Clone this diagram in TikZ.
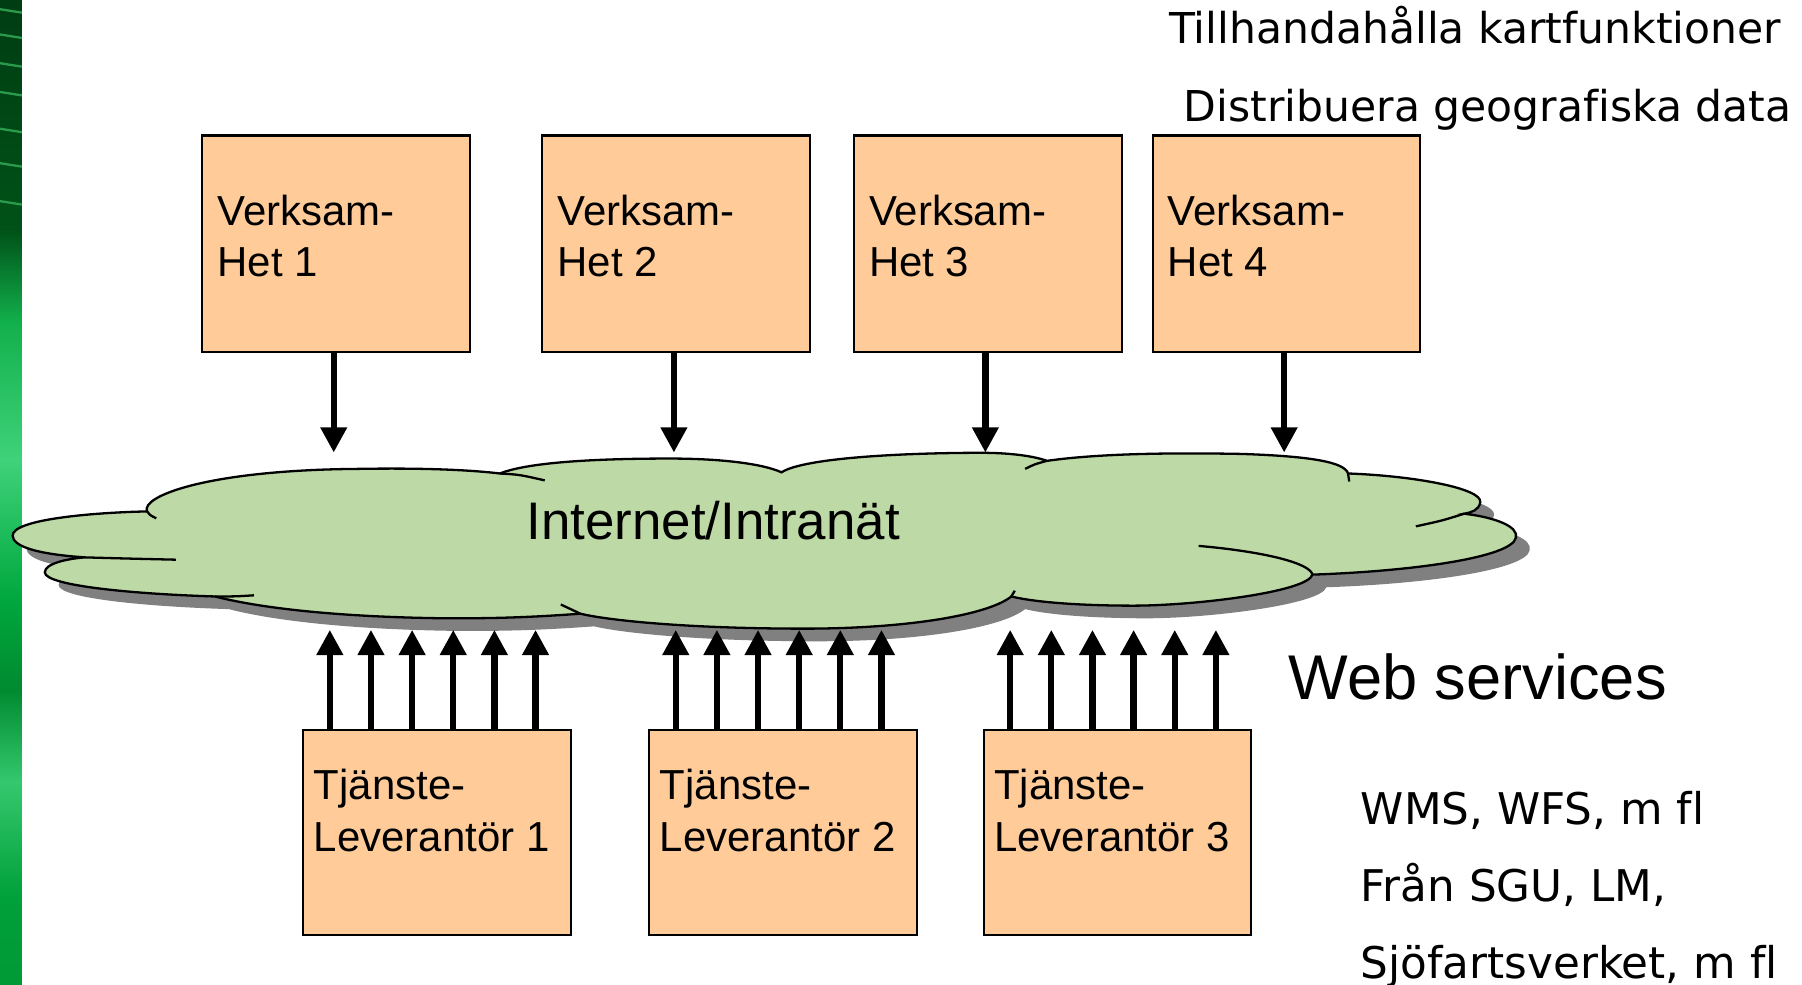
\documentclass[tikz,border=0pt]{standalone}
\usepackage{fontspec}
\setmainfont{Liberation Sans}
\newfontfamily\dvfont[Ligatures=NoCommon]{DejaVu Sans}
\usetikzlibrary{arrows.meta,calc}
\definecolor{peach}{HTML}{FFCC99}
\definecolor{cloudgreen}{HTML}{BDD9A5}
\definecolor{shadowgray}{HTML}{808080}
\definecolor{gA}{HTML}{003D12}
\definecolor{gB}{HTML}{005218}
\definecolor{gC}{HTML}{12B04C}
\definecolor{gD}{HTML}{3FD27A}
\definecolor{gE}{HTML}{00A83E}
\definecolor{gF}{HTML}{008A30}
\definecolor{gG}{HTML}{35C86E}
\definecolor{gH}{HTML}{00A03A}
\definecolor{gI}{HTML}{009A35}
\definecolor{streakgreen}{HTML}{2A9A4C}
\tikzset{
  vbox/.style={draw=black, line width=1.8pt, fill=peach, minimum width=233pt, minimum height=188pt, anchor=north west, inner sep=0pt},
  tbox/.style={draw=black, line width=1.8pt, fill=peach, minimum width=233pt, minimum height=179pt, anchor=north west, inner sep=0pt},
  boxtext/.style={font=\fontsize{36.5}{44}\selectfont, anchor=base west, inner sep=0pt},
  dvtext/.style={font=\dvfont\fontsize{37}{44}\selectfont, anchor=base west, inner sep=0pt},
  dvtextb/.style={font=\dvfont\fontsize{38}{44}\selectfont, anchor=base west, inner sep=0pt},
  arr/.style={line width=5.5pt, -{Triangle[width=22pt,length=22pt]}},
  cloudline/.style={line width=2pt, draw=black},
  streak/.style={draw=streakgreen, line width=2pt}
}
\newcommand{\cloudoutline}{(11,466) .. controls (11,452) and (80,446) .. (128,445)
 .. controls (122,432) and (180,409) .. (311,408)
 .. controls (370,407) and (410,409) .. (435,412)
 .. controls (460,402) and (520,399) .. (583,399)
 .. controls (630,399) and (665,404) .. (680,411)
 .. controls (700,398) and (790,394) .. (854,394)
 .. controls (880,394) and (900,397) .. (911,401)
 .. controls (960,394) and (1030,394) .. (1081,395)
 .. controls (1140,397) and (1170,402) .. (1173,412)
 .. controls (1230,414) and (1290,425) .. (1288,437)
 .. controls (1287,444) and (1280,446) .. (1274,447)
 .. controls (1300,450) and (1322,458) .. (1319,468)
 .. controls (1315,485) and (1230,497) .. (1142,500)
 .. controls (1138,515) and (1040,527) .. (986,527)
 .. controls (940,527) and (900,524) .. (880,519)
 .. controls (860,535) and (790,547) .. (700,547)
 .. controls (600,547) and (530,540) .. (505,534)
 .. controls (450,538) and (420,538) .. (388,538)
 .. controls (300,537) and (230,530) .. (187,519)
 .. controls (120,517) and (39,510) .. (39,498)
 .. controls (39,490) and (60,486) .. (74,485)
 .. controls (30,482) and (11,475) .. (11,466) -- cycle}
\begin{document}
\begin{tikzpicture}[x=1pt,y=-1pt]
\useasboundingbox (0,0) rectangle (1568,857);
\fill[white] (0,0) rectangle (1568,857);
% green strip
\shade[top color=gA, bottom color=gB] (0,0) rectangle (19,201);
\shade[top color=gB, bottom color=gC] (0,200) rectangle (19,281);
\shade[top color=gC, bottom color=gD] (0,280) rectangle (19,401);
\shade[top color=gD, bottom color=gE] (0,400) rectangle (19,521);
\shade[top color=gE, bottom color=gF] (0,520) rectangle (19,601);
\shade[top color=gF, bottom color=gG] (0,600) rectangle (19,681);
\shade[top color=gG, bottom color=gH] (0,680) rectangle (19,781);
\shade[top color=gH, bottom color=gI] (0,780) rectangle (19,857);
\foreach \s in {8,30,55,80,112,142,175}
  \draw[streak] (0,\s) -- (19,\s+3);
% cloud
\fill[shadowgray, shift={(12,11)}] \cloudoutline;
\filldraw[fill=cloudgreen, cloudline] \cloudoutline;
\draw[cloudline] (128,445) .. controls (130,448) .. (136,451);
\draw[cloudline] (435,412) .. controls (452,413) .. (474,418);
\draw[cloudline] (892,408) .. controls (900,404) .. (911,401);
\draw[cloudline] (1173,412) .. controls (1174,416) .. (1174,419);
\draw[cloudline] (1274,447) .. controls (1255,453) .. (1232,458);
\draw[cloudline] (1043,475) .. controls (1100,480) and (1140,490) .. (1142,500);
\draw[cloudline] (880,519) .. controls (881,516) .. (883,514);
\draw[cloudline] (505,534) .. controls (497,530) .. (488,526);
\draw[cloudline] (187,519) .. controls (205,519) .. (221,518);
\draw[cloudline] (74,485) .. controls (110,486) .. (153,487);
\node[font=\fontsize{46}{55}\selectfont, anchor=base west, inner sep=0pt] (net) at (458,469) {Internet/Intranät};
% top boxes
\node[vbox] (v1) at (175,117) {};
\node[vbox] (v2) at (471,117) {};
\node[vbox] (v3) at (742,117) {};
\node[vbox] (v4) at (1002,117) {};
\foreach \i in {1,2,3,4}{
  \node[boxtext] (v\i a) at ($(v\i.north west)+(14,79)$) {Verksam-};
  \node[boxtext] (v\i b) at ($(v\i.north west)+(14,124)$) {Het \i};
  \coordinate (v\i e) at ($(v\i.south)+(-2,87)$);
  \draw[arr] ($(v\i.south)+(-2,0)$) -- (v\i e);
}
% bottom boxes
\node[tbox] (t1) at (263,634) {};
\node[tbox] (t2) at (564,634) {};
\node[tbox] (t3) at (855,634) {};
\foreach \i in {1,2,3}{
  \node[boxtext] (t\i a) at ($(t\i.north west)+(10,62)$) {Tjänste-};
  \node[boxtext] (t\i b) at ($(t\i.north west)+(10,107)$) {Leverantör \i};
  \foreach \k in {0,...,5}{
    \coordinate (t\i s\k) at ($(t\i.north west)+(24+35.8*\k,0)$);
    \coordinate (t\i e\k) at ($(t\i.north west)+(24+35.8*\k,-86)$);
    \draw[arr] (t\i s\k) -- (t\i e\k);
  }
}
% texts
\node[font=\fontsize{55}{66}\selectfont, anchor=base west, inner sep=0pt] (ws) at (1121,609) {Web services};
\node[dvtext] (r1) at (1017,38) {Tillhandahålla kartfunktioner};
\node[dvtext] (r2) at (1030,106) {Distribuera geografiska data};
\node[dvtextb] (w1) at (1184,717) {WMS, WFS, m fl};
\node[dvtextb] (w2) at (1184,784) {Från SGU, LM,};
\node[dvtextb] (w3) at (1184,851) {Sjöfartsverket, m fl};
\end{tikzpicture}
\end{document}
